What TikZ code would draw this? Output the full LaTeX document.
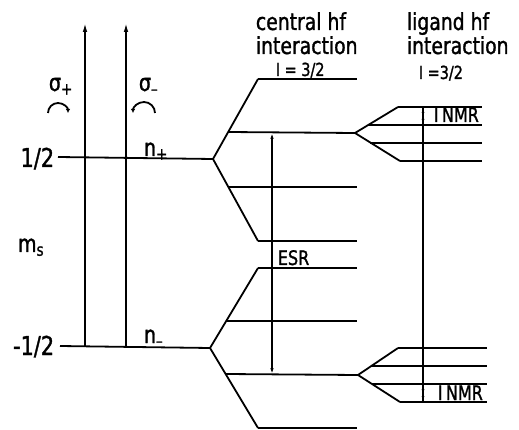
\documentclass[tikz,border=0pt]{standalone}
\usepackage{fontspec}
\setmainfont{DejaVu Sans}[FakeStretch=0.8,FakeBold=1.2]
\usetikzlibrary{arrows.meta}
\begin{document}
\begin{tikzpicture}[x=1pt,y=-1pt,line width=1.8pt,
  lab/.style={inner sep=0pt,anchor=base west},
  hdr/.style={lab,font=\fontsize{23.5}{27}\selectfont},
  isp/.style={lab,font=\fontsize{18}{21}\selectfont},
  big/.style={inner sep=0pt,anchor=base east,font=\fontsize{26}{30}\selectfont},
  sym/.style={lab,font=\fontsize{24}{28}\selectfont},
  captxt/.style={lab,font=\fontsize{20}{24}\selectfont},
  longarrow/.style={-{Latex[length=10pt,width=4.5pt]}},
  dbl/.style={{Latex[length=6pt,width=3.5pt]}-{Latex[length=6pt,width=3.5pt]}},
  tinyarr/.style={{Latex[length=5pt,width=3pt]}-{Latex[length=5pt,width=3pt]}},
  circarrow/.style={line width=1.8pt,-{Latex[length=4pt,width=4.5pt]}}]
\useasboundingbox (0,0) rectangle (519,430);

% left labels
\node[big] (half) at (55,167) {1/2};
\node[big] (mhalf) at (55,355) {-1/2};
\node[sym] (ms) at (17,252) {m\textsubscript{s}};
\node[sym] (np) at (143,156) {n\textsubscript{+}};
\node[sym] (nm) at (143,343) {n\textsubscript{–}};
\node[sym] (sp) at (48,91) {σ\textsubscript{+}};
\node[sym] (sm) at (138,91) {σ\textsubscript{–}};

% polarization arcs (y axis points down: 270 degrees is up)
\coordinate (spa) at (48,113);
\coordinate (sma) at (155,113);
\draw[circarrow] (spa) arc[start angle=180,end angle=360,radius=10];
\draw[circarrow] (sma) arc[start angle=360,end angle=180,radius=11];

% vertices
\coordinate (u) at (213,159);
\coordinate (d) at (210,348);
\coordinate (A) at (355,133);
\coordinate (B) at (358,375);

% m_s levels
\coordinate (hl) at (58,157);
\coordinate (ml) at (60,346);
\draw (hl) -- (u);
\draw (ml) -- (d);

% optical arrows
\coordinate (a1b) at (85,347);
\coordinate (a1t) at (85,22);
\coordinate (a2b) at (126,347);
\coordinate (a2t) at (126,22);
\draw[longarrow] (a1b) -- (a1t);
\draw[longarrow] (a2b) -- (a2t);

% central hf, upper group
\coordinate (t1) at (258,79);
\coordinate (t4) at (258,241);
\coordinate (c1e) at (357,79);
\coordinate (c2s) at (228,132);
\coordinate (c3s) at (228,187);
\coordinate (c3e) at (357,187);
\coordinate (c4e) at (357,241);
\draw (t1) -- (u) -- (t4);
\draw (t1) -- (c1e);
\draw (c2s) -- (A);
\draw (c3s) -- (c3e);
\draw (t4) -- (c4e);

% central hf, lower group
\coordinate (t5) at (258,268);
\coordinate (t8) at (258,428);
\coordinate (c5e) at (357,268);
\coordinate (c6s) at (226,321);
\coordinate (c6e) at (357,321);
\coordinate (c7s) at (226,374);
\coordinate (c8e) at (357,428);
\draw (t5) -- (d) -- (t8);
\draw (t5) -- (c5e);
\draw (c6s) -- (c6e);
\draw (c7s) -- (B);
\draw (t8) -- (c8e);

% ligand hf, upper fan
\coordinate (f1) at (398,107);
\coordinate (f4) at (400,161);
\coordinate (f1e) at (482,107);
\coordinate (f2s) at (368,125);
\coordinate (f2e) at (482,125);
\coordinate (f3s) at (370,143);
\coordinate (f3e) at (482,143);
\coordinate (f4e) at (482,161);
\draw (f1) -- (A) -- (f4);
\draw (f1) -- (f1e);
\draw (f2s) -- (f2e);
\draw (f3s) -- (f3e);
\draw (f4) -- (f4e);

% ligand hf, lower fan
\coordinate (g1) at (398,348);
\coordinate (g4) at (400,402);
\coordinate (g1e) at (487,348);
\coordinate (g2s) at (371,366);
\coordinate (g2e) at (487,366);
\coordinate (g3s) at (372,384);
\coordinate (g3e) at (487,384);
\coordinate (g4e) at (487,402);
\draw (g1) -- (B) -- (g4);
\draw (g1) -- (g1e);
\draw (g2s) -- (g2e);
\draw (g3s) -- (g3e);
\draw (g4) -- (g4e);

% ESR transition
\coordinate (esrt) at (272,133);
\coordinate (esrb) at (272,374);
\draw[dbl,line width=1.4pt] (esrt) -- (esrb);
\node[captxt] (esr) at (277,265) {ESR};

% ligand transitions
\coordinate (lt) at (423,107);
\coordinate (lb) at (423,402);
\draw[line width=1.5pt] (lt) -- (lb);
\coordinate (n1t) at (423,108);
\coordinate (n1b) at (423,124);
\coordinate (n2t) at (423,385);
\coordinate (n2b) at (423,401);
\draw[tinyarr,line width=1.5pt] (n1t) -- (n1b);
\draw[tinyarr,line width=1.5pt] (n2t) -- (n2b);
\node[captxt] (nmr1) at (433,122) {I\,NMR};
\node[captxt] (nmr2) at (437,400) {I\,NMR};

% headers
\node[hdr] (ch1) at (255,30) {central hf};
\node[hdr] (ch2) at (255,54) {interaction};
\node[isp] (ch3) at (275,76) {I = 3/2};
\node[hdr] (lh1) at (406,30) {ligand hf};
\node[hdr] (lh2) at (406,54) {interaction};
\node[isp] (lh3) at (418,79) {I =3/2};
\end{tikzpicture}
\end{document}
